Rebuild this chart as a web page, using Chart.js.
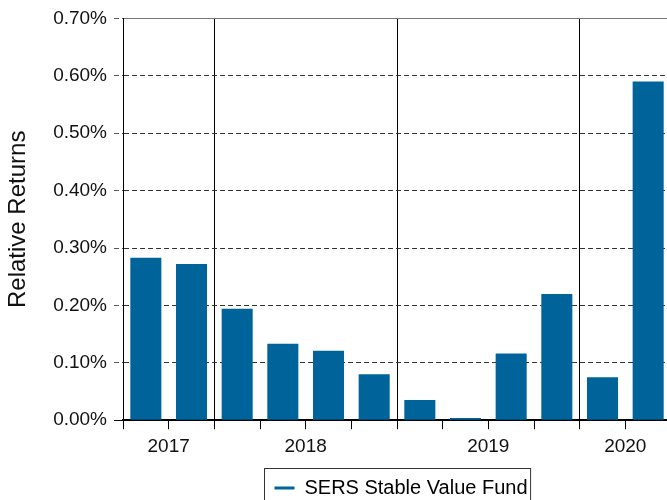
<!DOCTYPE html>
<html>
<head>
<meta charset="utf-8">
<script src="https://cdn.jsdelivr.net/npm/chart.js@4.4.1/dist/chart.umd.min.js"></script>
<style>
  html, body { margin: 0; padding: 0; background: #fff; overflow: hidden; }
  #wrap { width: 671px; height: 508px; }
</style>
</head>
<body>
<div id="wrap"><canvas id="chart" width="671" height="508"></canvas></div>
<script>
// data (returns in %)
const periods = ["Q3 2017", "Q4 2017", "Q1 2018", "Q2 2018", "Q3 2018", "Q4 2018",
                 "Q1 2019", "Q2 2019", "Q3 2019", "Q4 2019", "Q1 2020", "Q2 2020"];
const relReturns = [0.283, 0.272, 0.194, 0.133, 0.121, 0.080, 0.035, 0.004, 0.116, 0.220, 0.075, 0.590];
// year label sits under the boundary after these periods
const yearLabels = ["2017", "", "", "2018", "", "", "", "2019", "", "", "2020", ""];
const yearBreaks = [2, 6, 10]; // grid line index where a new year starts

const BLUE = "#00649b";
const FONT = "'Liberation Sans', Arial, sans-serif";

// legend centered under plot area + frame around it
const legendFrame = {
  id: "legendFrame",
  afterLayout(chart) {
    const lg = chart.legend;
    const pad = lg.options.labels.padding;
    // adjustHitBoxes adds the offset again, so undo the first one
    lg.legendHitBoxes.forEach((hb) => { hb.top -= lg.top + pad; });
    lg.left = chart.chartArea.left + 8;
    lg.right = chart.chartArea.right;
    lg.width = lg.right - lg.left;
    lg.adjustHitBoxes();
  },
  afterDraw(chart) {
    const hb = chart.legend.legendHitBoxes[0];
    if (!hb) return;
    const ctx = chart.ctx;
    ctx.save();
    ctx.strokeStyle = "#333";
    ctx.lineWidth = 1;
    ctx.strokeRect(Math.round(hb.left - 10) + 0.5, Math.round(hb.top - 10) + 0.5, hb.width + 13, hb.height + 40);
    ctx.restore();
  }
};

const ctx = document.getElementById("chart").getContext("2d");
new Chart(ctx, {
  type: "bar",
  data: {
    labels: periods,
    datasets: [{
      label: "SERS Stable Value Fund",
      data: relReturns,
      backgroundColor: BLUE,
      barPercentage: 0.68,
      categoryPercentage: 1
    }]
  },
  options: {
    responsive: false,
    animation: false,
    layout: { padding: { top: 18, right: 0, left: 0, bottom: 0 } },
    plugins: {
      tooltip: { enabled: false },
      legend: {
        position: "bottom",
        labels: {
          padding: 14,
          usePointStyle: true,
          pointStyleWidth: 20,
          color: "#111",
          font: { family: FONT, size: 20 },
          generateLabels(chart) {
            const ds = chart.data.datasets[0];
            return [{
              text: ds.label,
              fillStyle: BLUE,
              strokeStyle: BLUE,
              lineWidth: 3,
              pointStyle: "line",
              hidden: false,
              datasetIndex: 0
            }];
          }
        }
      }
    },
    scales: {
      x: {
        grid: {
          offset: true,
          color: (c) => yearBreaks.includes(c.index) ? "#000" : "rgba(0,0,0,0)",
          lineWidth: 1,
          tickColor: "#000",
          tickLength: 9
        },
        border: { color: "#000", width: 1.5 },
        ticks: {
          autoSkip: false,
          maxRotation: 0,
          padding: 6,
          labelOffset: 22.8,
          color: "#111",
          font: { family: FONT, size: 19 },
          callback: (v, i) => yearLabels[i]
        }
      },
      y: {
        min: 0,
        max: 0.7,
        afterFit(scale) { scale.width = 123; },
        title: {
          display: true,
          text: "Relative Returns",
          color: "#111",
          font: { family: FONT, size: 24 },
          padding: { top: 4, bottom: 0 }
        },
        grid: {
          color: (c) => c.index === 0 ? "#000" : (c.index === 7 ? "#777" : "#333"),
          lineWidth: 1,
          tickLength: 9,
          tickColor: (c) => c.index === 0 ? "#000" : "#555",
          tickBorderDash: (c) => c.index === 0 ? [] : [5, 3]
        },
        border: {
          color: "#000",
          width: 1,
          dash: (c) => (c.index === 0 || c.index === 7) ? [] : [5, 3]
        },
        ticks: {
          stepSize: 0.1,
          padding: 7,
          color: "#111",
          font: { family: FONT, size: 19 },
          callback: (v) => v.toFixed(2) + "%"
        }
      }
    }
  },
  plugins: [legendFrame]
});
</script>
</body>
</html>
